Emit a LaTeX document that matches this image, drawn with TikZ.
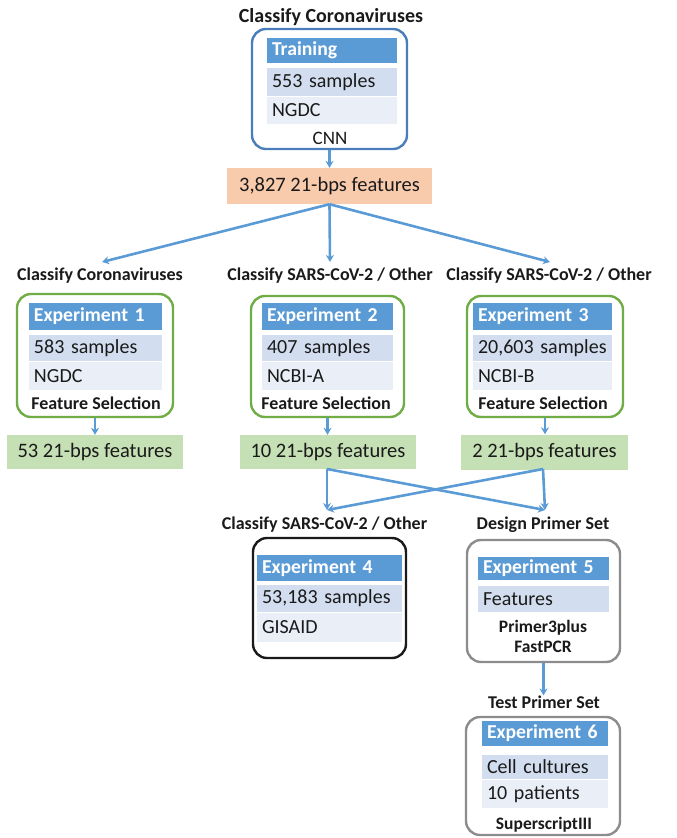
\documentclass[tikz,border=0pt]{standalone}
\usepackage{fontspec}
\setmainfont{Carlito}
\usetikzlibrary{arrows.meta}
\definecolor{hdrc}{HTML}{5B9BD5}
\definecolor{rowa}{HTML}{D2DEEF}
\definecolor{rowb}{HTML}{EAEFF7}
\definecolor{tblue}{HTML}{4A7EBB}
\definecolor{gborder}{HTML}{70AD47}
\definecolor{gfill}{HTML}{C5E0B4}
\definecolor{ofill}{HTML}{F8CBAD}
\definecolor{graybd}{HTML}{8C8C8C}
\definecolor{arrc}{HTML}{5B9BD5}
\definecolor{txt}{HTML}{1A1A1A}
\begin{document}
\begin{tikzpicture}[x=1pt,y=-1pt,
  every node/.style={inner sep=0pt, text=txt, font=\fontsize{20}{22}\selectfont},
  ttl/.style={font=\fontsize{18}{21}\selectfont\bfseries},
  small/.style={font=\fontsize{18}{20}\selectfont\bfseries},
  outerbox/.style={draw, line width=2.4pt, rounded corners=14pt, fill=white},
  hdrrow/.style={fill=hdrc, text=white, font=\fontsize{19.7}{22}\selectfont\bfseries, inner xsep=5pt, align=left},
  rowA/.style={fill=rowa, inner xsep=5pt, align=left},
  rowB/.style={fill=rowb, inner xsep=5pt, align=left},
  featbox/.style={fill=gfill, font=\fontsize{20.5}{22}\selectfont},
  arr/.style={draw=arrc, line width=2.6pt, -{Stealth[length=7pt,width=8pt]}}
]
\useasboundingbox (0,0) rectangle (677,838);

% ---------- Training ----------
\node[ttl, font=\fontsize{20}{22}\selectfont\bfseries] (t0) at (331,17) {Classify Coronaviruses};
\node[outerbox, draw=tblue, minimum width=155pt, minimum height=120pt] (tb) at (329.5,89) {};
\node[hdrrow, text width=120pt, minimum height=25pt] (tbh) at (332,50.5) {Training};
\node[rowA, text width=120pt, minimum height=28pt] (tb1) at (332,82) {553 samples};
\node[rowB, text width=120pt, minimum height=27pt] (tb2) at (332,110.5) {NGDC};
\node[font=\fontsize{19}{20}\selectfont] (tbc) at (330,138) {CNN};

\node[fill=ofill, minimum width=205pt, minimum height=36pt, font=\fontsize{20.5}{22}\selectfont] (f0) at (329.5,186) {3,827 21-bps features};

% ---------- Row 2 titles ----------
\node[ttl] (c1) at (100,276) {Classify Coronaviruses};
\node[ttl] (c2) at (330,276) {Classify SARS-CoV-2 / Other};
\node[ttl] (c3) at (549,276) {Classify SARS-CoV-2 / Other};

% ---------- Experiment 1 ----------
\node[outerbox, draw=gborder, minimum width=156pt, minimum height=123pt] (e1) at (95,355.5) {};
\node[hdrrow, text width=123pt, minimum height=27pt] (e1h) at (95.5,316.5) {Experiment 1};
\node[rowA, text width=123pt, minimum height=26pt] (e1a) at (95.5,348) {583 samples};
\node[rowB, text width=123pt, minimum height=28pt] (e1b) at (95.5,376) {NGDC};
\node[small] (e1f) at (96,403) {Feature Selection};

% ---------- Experiment 2 ----------
\node[outerbox, draw=gborder, minimum width=153pt, minimum height=121pt] (e2) at (327.5,356.5) {};
\node[hdrrow, text width=121pt, minimum height=27pt] (e2h) at (327.5,316.5) {Experiment 2};
\node[rowA, text width=121pt, minimum height=26pt] (e2a) at (327.5,348) {407 samples};
\node[rowB, text width=121pt, minimum height=28pt] (e2b) at (327.5,376) {NCBI-A};
\node[small] (e2f) at (326,403) {Feature Selection};

% ---------- Experiment 3 ----------
\node[outerbox, draw=gborder, minimum width=156pt, minimum height=121pt] (e3) at (545,356.5) {};
\node[hdrrow, text width=129pt, minimum height=27pt] (e3h) at (542.5,316.5) {Experiment 3};
\node[rowA, text width=129pt, minimum height=26pt] (e3a) at (542.5,348) {20,603 samples};
\node[rowB, text width=129pt, minimum height=28pt] (e3b) at (542.5,376) {NCBI-B};
\node[small] (e3f) at (543,403) {Feature Selection};

% ---------- Feature boxes ----------
\node[featbox, minimum width=176pt, minimum height=34pt] (g1) at (95,452) {53 21-bps features};
\node[featbox, minimum width=176pt, minimum height=34pt] (g2) at (328,452) {10 21-bps features};
\node[featbox, minimum width=167pt, minimum height=35pt] (g3) at (544.5,452) {2 21-bps features};

% ---------- Experiment 4 ----------
\node[ttl] (c4) at (324.5,525) {Classify SARS-CoV-2 / Other};
\node[outerbox, draw=txt, minimum width=153pt, minimum height=120pt] (e4) at (329.5,598) {};
\node[hdrrow, text width=135pt, minimum height=26pt] (e4h) at (329.5,568) {Experiment 4};
\node[rowA, text width=135pt, minimum height=27pt] (e4a) at (329.5,598.5) {53,183 samples};
\node[rowB, text width=135pt, minimum height=29pt] (e4b) at (329.5,627.5) {GISAID};

% ---------- Experiment 5 ----------
\node[ttl] (c5) at (543,525) {Design Primer Set};
\node[outerbox, draw=graybd, minimum width=153pt, minimum height=122pt] (e5) at (543.5,601) {};
\node[hdrrow, text width=121pt, minimum height=23pt] (e5h) at (543.5,568) {Experiment 5};
\node[rowA, text width=121pt, minimum height=26pt] (e5a) at (543.5,599) {Features};
\node[small, font=\fontsize{17.5}{20}\selectfont\bfseries] (e5p) at (543,628) {Primer3plus};
\node[small, font=\fontsize{17.5}{20}\selectfont\bfseries] (e5q) at (543,647) {FastPCR};

% ---------- Experiment 6 ----------
\node[ttl] (c6) at (544,702) {Test Primer Set};
\node[outerbox, draw=graybd, minimum width=154pt, minimum height=118pt] (e6) at (543,776) {};
\node[hdrrow, text width=116pt, minimum height=25pt] (e6h) at (545,733.5) {Experiment 6};
\node[rowA, text width=116pt, minimum height=24pt] (e6a) at (545,767) {Cell cultures};
\node[rowB, text width=116pt, minimum height=28pt] (e6b) at (545,794) {10 patients};
\node[small, font=\fontsize{17.5}{20}\selectfont\bfseries] (e6s) at (544,825) {SuperscriptIII};

% ---------- Connectors ----------
\draw[arr] (tb.south) -- (f0.north);
\coordinate (o1) at (102,262);
\coordinate (o2) at (330,262);
\coordinate (o3) at (550,262);
\draw[arr] (f0.south) -- (o1);
\draw[arr] (f0.south) -- (o2);
\draw[arr] (f0.south) -- (o3);
\draw[arr] (e1.south) -- (g1.north);
\draw[arr] (e2.south) -- (e2.south |- g2.north);
\draw[arr] (e3.south) -- (e3.south |- g3.north);
\coordinate (s2) at (327,469);
\coordinate (s3) at (543,469);
\coordinate (i4) at (327,510);
\coordinate (i5) at (545,510);
\draw[arr] (s2) -- (i4);
\draw[arr] (s2) -- (i5);
\draw[arr] (s3) -- (i5);
\draw[arr] (s3) -- (i4);
\draw[arr] (e5.south) -- (e5.south |- c6.north);
\end{tikzpicture}
\end{document}
